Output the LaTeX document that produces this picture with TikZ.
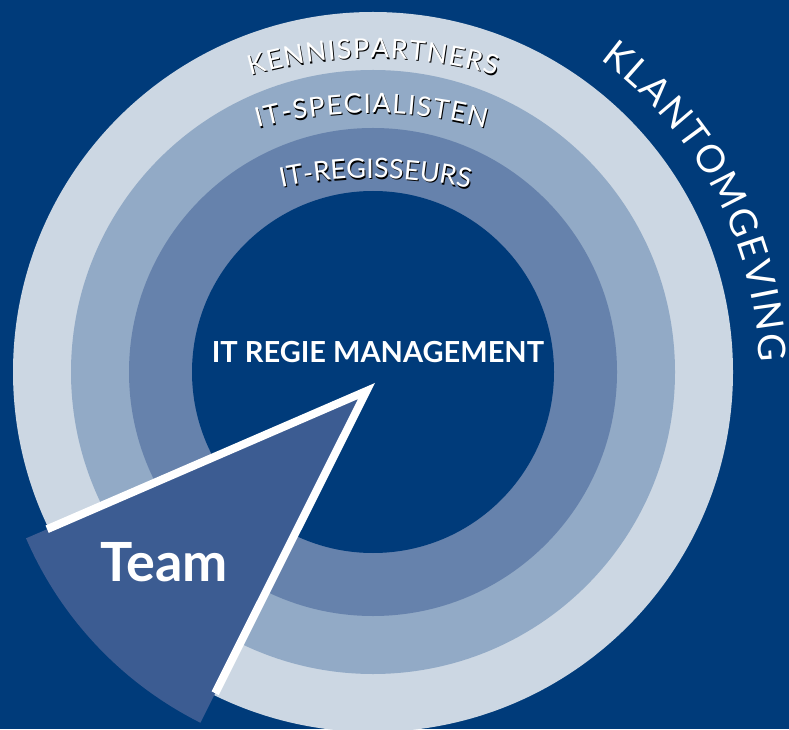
\documentclass[tikz,border=0pt]{standalone}
\usepackage{fontspec}
\setmainfont{Lato}
\usetikzlibrary{calc,decorations.text}

\definecolor{navy}{RGB}{0,59,122}
\definecolor{ringA}{RGB}{204,215,227}
\definecolor{ringB}{RGB}{146,170,198}
\definecolor{ringC}{RGB}{102,130,172}
\definecolor{teamblue}{RGB}{60,92,146}
\newcommand{\ringfont}{\fontsize{27}{27}\selectfont}
\newcommand{\klantfont}{\fontsize{38}{38}\selectfont}

\begin{document}
\begin{tikzpicture}[x=1pt,y=1pt,
		ringtext/.style={decorate, decoration={text along path, text align=fit to path, text color=white, text={|\ringfont|#1}}},
		ringshade/.style={decorate, decoration={text along path, text align=fit to path, text color=black, text={|\ringfont|#1}}, opacity=0.2}]
	\useasboundingbox (0,0) rectangle (789,729);
	\fill[navy] (0,0) rectangle (789,729);
	\coordinate (c) at (373,357);
	\fill[ringA] (c) circle[radius=360];
	\fill[ringB] (c) circle[radius=302];
	\fill[ringC] (c) circle[radius=244];
	\fill[navy] (c) circle[radius=181];
	
	\coordinate (kp) at (373,231);
	\coordinate (sp) at (371.5,176);
	\coordinate (rg) at (372,111);
	\path[ringshade=KENNISPARTNERS] ($(kp)+(1,-1.5)+(106.2:440)$) arc[start angle=106.2, end angle=73.8, radius=440];
	\path[ringtext=KENNISPARTNERS] ($(kp)+(106.2:440)$) arc[start angle=106.2, end angle=73.8, radius=440];
	\path[ringshade=IT-SPECIALISTEN] ($(sp)+(1,-1.5)+(105:440)$) arc[start angle=105, end angle=75, radius=440];
	\path[ringtext=IT-SPECIALISTEN] ($(sp)+(105:440)$) arc[start angle=105, end angle=75, radius=440];
	\path[ringshade=IT-REGISSEURS] ($(rg)+(1,-1.5)+(101.9:440)$) arc[start angle=101.9, end angle=78.1, radius=440];
	\path[ringtext=IT-REGISSEURS] ($(rg)+(101.9:440)$) arc[start angle=101.9, end angle=78.1, radius=440];
	\path[decorate, decoration={text along path, text align=fit to path, text color=white, text={|\klantfont|KLANTOMGEVING}}]
		($(c)+(54:386)$) arc[start angle=54, end angle=1.5, radius=386];
	
	\node[text=white, font=\bfseries\fontsize{29}{29}\selectfont] (mgmt) at (378,377) {IT REGIE MANAGEMENT};
	
	\coordinate (tip) at (366.5,338);
	\fill[teamblue] (tip) -- ++(203.4:371) arc[start angle=203.4, end angle=243.4, radius=371] -- cycle;
	\draw[white, line width=8pt] ($(tip)+(203.4:348)$) -- (tip) -- ($(tip)+(243.4:338)$);
	\node[text=white, font=\bfseries\fontsize{54}{54}\selectfont] (team) at (164,167) {Team};
\end{tikzpicture}
\end{document}
